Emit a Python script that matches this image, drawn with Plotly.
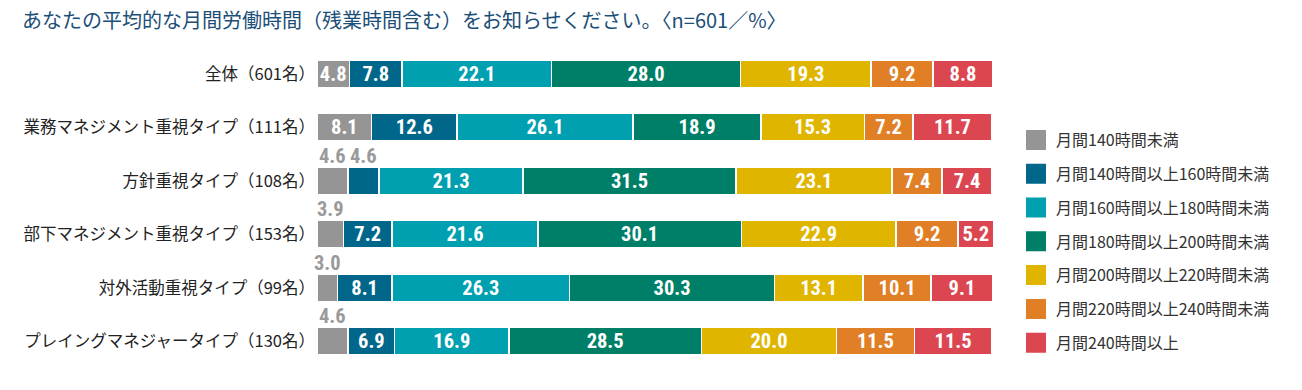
import plotly.graph_objects as go

categories = [
    "全体（601名）",
    "業務マネジメント重視タイプ（111名）",
    "方針重視タイプ（108名）",
    "部下マネジメント重視タイプ（153名）",
    "対外活動重視タイプ（99名）",
    "プレイングマネジャータイプ（130名）",
]
series_names = [
    "月間140時間未満",
    "月間140時間以上160時間未満",
    "月間160時間以上180時間未満",
    "月間180時間以上200時間未満",
    "月間200時間以上220時間未満",
    "月間220時間以上240時間未満",
    "月間240時間以上",
]
s1 = [4.8, 8.1, 4.6, 3.9, 3.0, 4.6]
s2 = [7.8, 12.6, 4.6, 7.2, 8.1, 6.9]
s3 = [22.1, 26.1, 21.3, 21.6, 26.3, 16.9]
s4 = [28.0, 18.9, 31.5, 30.1, 30.3, 28.5]
s5 = [19.3, 15.3, 23.1, 22.9, 13.1, 20.0]
s6 = [9.2, 7.2, 7.4, 9.2, 10.1, 11.5]
s7 = [8.8, 11.7, 7.4, 5.2, 9.1, 11.5]
series_values = [s1, s2, s3, s4, s5, s6, s7]
colors = ["#959595", "#00678a", "#00a0b0", "#007f68", "#dfb500", "#e07f26", "#dc4650"]

title_text = "あなたの平均的な月間労働時間（残業時間含む）をお知らせください。〈n=601／%〉"

NUM_FONT = "Liberation Sans Narrow, Roboto Condensed, Roboto, sans-serif"
JP_FONT = "Noto Sans CJK JP, sans-serif"
INSIDE_MIN = 4.7

fig = go.Figure()
annotations = []
cum = [0.0] * len(categories)
for name, vals, col in zip(series_names, series_values, colors):
    texts = [f"{v:.1f}" if v >= INSIDE_MIN else "" for v in vals]
    fig.add_trace(go.Bar(
        y=categories, x=vals, orientation="h", name=name,
        marker=dict(color=col, line=dict(color="white", width=1.5)),
        text=texts, texttemplate="%{text}", textposition="inside",
        insidetextanchor="middle", textangle=0, constraintext="none",
        textfont=dict(family=NUM_FONT, size=20.5, color="white", weight="bold"),
        cliponaxis=False, showlegend=False, hoverinfo="skip",
    ))
    for i, v in enumerate(vals):
        if v < INSIDE_MIN:
            annotations.append(dict(
                x=cum[i] + v / 2, y=categories[i], xref="x", yref="y",
                text=f"{v:.1f}", showarrow=False, yshift=25,
                font=dict(family=NUM_FONT, size=20.5, color="#9a9a9a", weight="bold"),
            ))
        cum[i] += v

for name, col in zip(series_names, colors):
    fig.add_trace(go.Scatter(
        x=[None], y=[None], mode="markers", name=name, legendgroup=name,
        marker=dict(symbol="square", size=16, color=col, line=dict(color=col, width=4)),
    ))

n = len(categories)
fig.update_layout(
    width=1302, height=390,
    margin=dict(l=317, r=308, t=47, b=22, autoexpand=False),
    paper_bgcolor="white", plot_bgcolor="white",
    barmode="stack", bargap=0.48,
    title=dict(text=title_text, x=22 / 1302, xanchor="left", xref="container",
               y=1 - 20.5 / 390, yanchor="middle", yref="container",
               pad=dict(t=0, b=0, l=0, r=0),
               font=dict(family=JP_FONT, size=20, color="#1b4f78")),
    xaxis=dict(range=[0, 100.2], showgrid=False, zeroline=False, showticklabels=False,
               showline=False, fixedrange=True, automargin=False),
    yaxis=dict(type="category", categoryorder="array", categoryarray=categories,
               range=[n - 0.5, -0.5], showgrid=False, zeroline=False, showline=False,
               ticks="", ticklabelstandoff=1, automargin=False, fixedrange=True,
               tickfont=dict(family=JP_FONT, size=16.5, color="#222222")),
    legend=dict(x=1016 / 1302, xref="container", xanchor="left",
                y=1 - 123 / 390, yref="container", yanchor="top",
                traceorder="grouped", tracegroupgap=10, maxheight=1.0,
                font=dict(family=JP_FONT, size=16, color="#333333"),
                bgcolor="rgba(0,0,0,0)", itemsizing="trace"),
    annotations=annotations,
    showlegend=True,
)

fig.write_html("out.html", config={"displayModeBar": False},
               post_script="document.body.style.margin='0';")
